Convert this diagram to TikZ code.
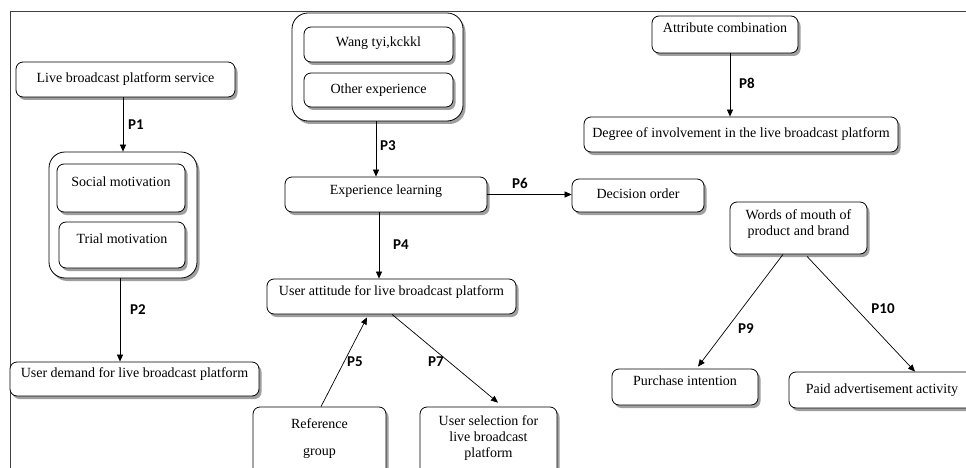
\documentclass[tikz,border=0pt]{standalone}
\usepackage{fontspec}
\setmainfont{Liberation Serif}
\newfontfamily\plabelfont{Carlito}
\usetikzlibrary{shadows,arrows.meta}
\begin{document}
\begin{tikzpicture}[x=1pt,y=-1pt,
  box/.style={draw=black, line width=0.8pt, rounded corners=7pt, fill=white,
    drop shadow={shadow xshift=2.5pt, shadow yshift=-3pt, opacity=0.5, fill=black!75},
    inner sep=0pt},
  cont/.style={box, rounded corners=16pt},
  txt/.style={font=\fontsize{14}{16}\selectfont, inner sep=0pt, align=center,
    text height=9.8pt, text depth=3.2pt},
  txtm/.style={font=\fontsize{14}{16}\selectfont, inner sep=0pt, align=center},
  plab/.style={font=\plabelfont\bfseries\fontsize{15}{17}\selectfont, inner sep=0pt},
  arr/.style={-{Triangle[length=7pt,width=6pt]}, line width=0.7pt},
  frame/.style={draw=black!75, line width=0.8pt}]
\clip (0,0) rectangle (966,468);
\fill[white] (0,0) rectangle (966,468);
\draw[frame] (10,470) -- (10,11) -- (968,11);

% left column
\node[box, minimum width=219pt, minimum height=35pt] (lbps) at (125.5,79.5) {};
\node[txt] (lbpst) at (125.5,79.5) {Live broadcast platform service};
\node[cont, minimum width=148pt, minimum height=126pt] (mot) at (123,215) {};
\node[box, minimum width=128pt, minimum height=48pt] (soc) at (121,188) {};
\node[txt] (soct) at (121,183) {Social motivation};
\node[box, minimum width=126pt, minimum height=46pt] (tri) at (122,245) {};
\node[txt] (trit) at (122,240) {Trial motivation};
\node[box, minimum width=249pt, minimum height=34pt] (dem) at (134.5,379) {};
\node[txt] (demt) at (134.5,374) {User demand for live broadcast platform};

% middle column
\node[cont, minimum width=171pt, minimum height=108pt] (expc) at (377.5,67) {};
\node[box, minimum width=149pt, minimum height=35pt] (wang) at (378.5,44.5) {};
\node[txt] (wangt) at (378.5,43) {Wang tyi,kckkl};
\node[box, minimum width=149pt, minimum height=34pt] (oth) at (378.5,90) {};
\node[txt] (otht) at (378.5,90) {Other experience};
\node[box, minimum width=202pt, minimum height=35pt] (el) at (386,194.5) {};
\node[txt] (elt) at (386,191) {Experience learning};
\node[box, minimum width=132pt, minimum height=33pt] (dec) at (638,195.5) {};
\node[txt] (dect) at (638,195) {Decision order};
\node[box, minimum width=249pt, minimum height=35pt] (ua) at (391.5,296.5) {};
\node[txt] (uat) at (391.5,292) {User attitude for live broadcast platform};
\node[box, minimum width=133pt, minimum height=73pt] (ref) at (319.5,443.5) {};
\node[txtm] (reft) at (319.5,439) {Reference\\[11pt]group};
\node[box, minimum width=137pt, minimum height=73pt] (us) at (488.5,443.5) {};
\node[txtm] (ust) at (488.5,438) {User selection for\\live broadcast\\platform};

% right column
\node[box, minimum width=146pt, minimum height=37pt] (attr) at (725,34.5) {};
\node[txt] (attrt) at (725,29) {Attribute combination};
\node[box, minimum width=314pt, minimum height=35pt] (deg) at (741,134.5) {};
\node[txt] (degt) at (741,134) {Degree of involvement in the live broadcast platform};
\node[box, minimum width=137pt, minimum height=52pt] (wom) at (798.5,228) {};
\node[txtm] (womt) at (798.5,224) {Words of mouth of\\product and brand};
\node[box, minimum width=146pt, minimum height=36pt] (pur) at (685,387) {};
\node[txt] (purt) at (685,382) {Purchase intention};
\node[box, minimum width=191pt, minimum height=36pt] (paid) at (884.5,390) {};
\node[txt] (paidt) at (882,390) {Paid advertisement activity};

% connectors
\draw[arr] (lbps.south -| mot.north) -- (mot.north);
\draw[arr] ([xshift=-3pt]mot.south) coordinate (p2a) -- (p2a |- dem.north);
\draw[arr] ([xshift=-1.5pt]expc.south) coordinate (p3a) -- (p3a |- el.north);
\draw[arr] ([xshift=-7pt]el.south) coordinate (p4a) -- (p4a |- ua.north);
\draw[arr] (el.east) -- (el.east -| dec.west);
\draw[arr] ([xshift=5pt]attr.south) coordinate (p8a) -- (p8a |- deg.north);
\draw[arr] ([xshift=1.5pt]ref.north) -- ([xshift=-24.5pt,yshift=-3pt]ua.south);
\draw[arr] ([xshift=0.5pt]ua.south) -- ([xshift=9.5pt,yshift=4pt]us.north);
\draw[arr] ([xshift=-15.5pt]wom.south) -- ([xshift=13pt,yshift=2pt]pur.north);
\draw[arr] ([xshift=8.5pt,yshift=-2pt]wom.south) -- ([xshift=30.5pt]paid.north);

% labels
\node[plab] (l1) at (136,125) {P1};
\node[plab] (l2) at (138,310) {P2};
\node[plab] (l3) at (388,146) {P3};
\node[plab] (l4) at (401,245) {P4};
\node[plab] (l5) at (355,362) {P5};
\node[plab] (l6) at (520,183) {P6};
\node[plab] (l7) at (436,362) {P7};
\node[plab] (l8) at (747,83) {P8};
\node[plab] (l9) at (746,329) {P9};
\node[plab] (l10) at (883,309) {P10};
\end{tikzpicture}
\end{document}
